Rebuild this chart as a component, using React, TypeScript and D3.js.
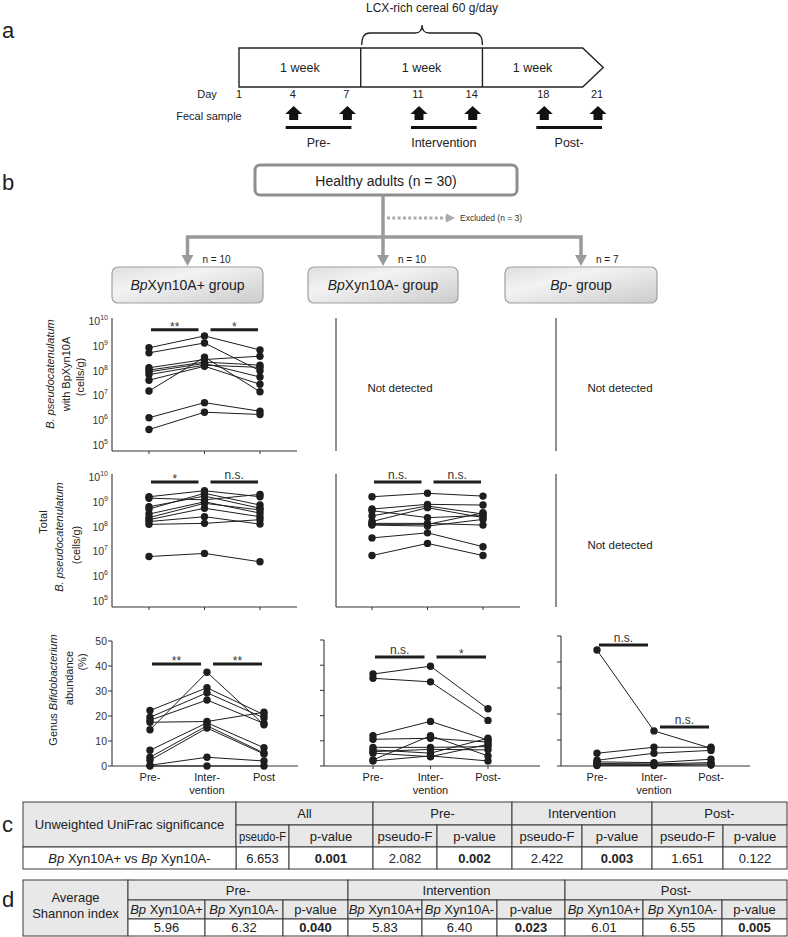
import React from "react";
import * as d3 from "d3";

const FONT = "'Liberation Sans', Arial, Helvetica, sans-serif";
const INK = "#1e1e1e";

// ---------- Panel a: study timeline ----------
const timelineDays = [1, 4, 7, 11, 14, 18, 21];
const sampleDays = [4, 7, 11, 14, 18, 21];
const weekEdges = [1, 7.8, 14.6, 20.2];
const arrowTipDay = 21.35;
const weekLabels = ["1 week", "1 week", "1 week"];
const periodLabels = ["Pre-", "Intervention", "Post-"];
const periodDays = [[4, 7], [11, 14], [18, 21]];
const interventionLabel = "LCX-rich cereal 60 g/day";

// ---------- Panel b: flow + dot plots ----------
const timePoints = ["Pre-", "Intervention", "Post-"];
const groupPrefix = ["Bp", "Bp", "Bp"];
const groupSuffix = ["Xyn10A+ group", "Xyn10A- group", "- group"];
const groupN = [10, 10, 7];
const excludedN = 3;
const totalN = 30;

// Row 1: B. pseudocatenulatum with BpXyn10A (cells/g), BpXyn10A+ group
const withXynPlusPre = [8.3e8, 5.2e8, 1.3e8, 1.05e8, 8.9e7, 6.9e7, 4.1e7, 1.5e7, 1.26e6, 4.2e5];
const withXynPlusInt = [2.5e9, 1.3e9, 2.8e8, 2.2e8, 1.95e8, 1.66e8, 1.5e8, 3.5e8, 5.1e6, 2.1e6];
const withXynPlusPost = [6.8e8, 9.8e7, 3.8e8, 1.66e8, 5.5e7, 1.35e8, 2.8e7, 1.4e7, 2.3e6, 1.7e6];

// Row 2: Total B. pseudocatenulatum (cells/g)
const totalPlusPre = [1.6e9, 1.4e9, 6.3e8, 5.1e8, 3.2e8, 2.3e8, 1.9e8, 1.6e8, 1.23e8, 6.2e6];
const totalPlusInt = [2.8e9, 1.2e9, 1.7e9, 2.2e9, 1.0e9, 8.7e8, 5.5e8, 2.5e8, 1.35e8, 8.3e6];
const totalPlusPost = [1.6e9, 2.0e9, 5.5e8, 7.4e8, 3.5e8, 4.7e8, 2.5e8, 1.26e8, 1.9e8, 3.8e6];
const totalMinusPre = [1.6e9, 5.1e8, 4.4e8, 2.7e8, 1.6e8, 1.35e8, 1.23e8, 1.15e8, 3.5e7, 6.8e6];
const totalMinusInt = [2.2e9, 7.9e8, 2.3e8, 6.8e8, 5.8e8, 1.35e8, 1.23e8, 1.05e8, 5.6e7, 2.1e7];
const totalMinusPost = [1.7e9, 7.4e8, 2.8e8, 3.2e8, 2.3e8, 1.15e8, 3.6e8, 1.95e8, 1.55e7, 6.8e6];

// Row 3: Genus Bifidobacterium abundance (%)
const bifPlusPre = [22.2, 19.5, 18.3, 17.5, 14.5, 6.3, 3.5, 2.3, 0.3, 0];
const bifPlusInt = [31.3, 29.3, 26.4, 17.8, 37.5, 17.3, 16.1, 15.2, 3.5, 0];
const bifPlusPost = [20.5, 19.2, 17.0, 21.5, 16.5, 7.3, 5.2, 4.8, 2.0, 0];
const bifMinusPre = [36.5, 34.8, 12.0, 10.6, 7.4, 6.4, 5.7, 5.1, 2.4, 2.0];
const bifMinusInt = [39.6, 33.4, 17.7, 11.0, 7.4, 5.1, 6.6, 3.7, 12.0, 4.0];
const bifMinusPost = [22.7, 18.1, 10.3, 9.5, 7.7, 11.0, 6.4, 8.6, 4.0, 2.0];
const bifNonePre = [44.6, 4.9, 2.2, 1.6, 1.0, 0.5, 0.2];
const bifNoneInt = [13.5, 7.2, 4.9, 1.3, 0.8, 0.5, 0.2];
const bifNonePost = [6.8, 7.2, 6.0, 2.6, 1.3, 0.8, 0.4];

const logTickValues = [1e5, 1e6, 1e7, 1e8, 1e9, 1e10];
const pctTickValues = [0, 10, 20, 30, 40, 50];

// ---------- Panel c / d tables ----------
const unifracHeader = "Unweighted UniFrac significance";
const unifracPeriods = ["All", "Pre-", "Intervention", "Post-"];
const unifracPseudoF = ["6.653", "2.082", "2.422", "1.651"];
const unifracP = ["0.001", "0.002", "0.003", "0.122"];
const unifracPBold = [true, true, true, false];
const shannonPeriods = ["Pre-", "Intervention", "Post-"];
const shannonPlus = ["5.96", "5.83", "6.01"];
const shannonMinus = ["6.32", "6.40", "6.55"];
const shannonP = ["0.040", "0.023", "0.005"];

type Sig = { from: number; to: number; at: number; label: string };

function SigBar({ x1, x2, y, label }: { x1: number; x2: number; y: number; label: string }) {
  const isStar = label.includes("*");
  return (
    <g>
      <line x1={x1} x2={x2} y1={y} y2={y} stroke={INK} strokeWidth={3} />
      <text x={(x1 + x2) / 2} y={isStar ? y + 1 : y - 3} textAnchor="middle" fontSize={12} fill="#333">
        {label}
      </text>
    </g>
  );
}

function DotPlot(props: {
  axisX: number; axisTop: number; axisBottom: number; xEnd: number; xFirst: number; xLast: number;
  y: any; pre: number[]; mid: number[]; post: number[]; sig: Sig[];
  logLabels?: boolean; pctLabels?: boolean; pctTicks?: boolean; xLabels?: string[][];
}) {
  const { axisX, axisTop, axisBottom, xEnd, xFirst, xLast, y, pre, mid, post, sig } = props;
  const x = d3.scalePoint<string>().domain(timePoints).range([xFirst, xLast]);
  const subjects = pre.map((p, i) => [p, mid[i], post[i]]);
  const line = d3.line<number>().x((_, i) => x(timePoints[i])!).y((v) => y(v));
  const px = timePoints.map((t) => x(t)!);
  return (
    <g>
      <line x1={axisX} x2={axisX} y1={axisTop} y2={axisBottom} stroke="#333" strokeWidth={1.1} />
      <line x1={axisX} x2={xEnd} y1={axisBottom} y2={axisBottom} stroke="#333" strokeWidth={1.1} />
      {px.map((p, i) => (
        <line key={i} x1={p} x2={p} y1={axisBottom} y2={axisBottom + 3} stroke="#333" strokeWidth={1} />
      ))}
      {props.logLabels &&
        logTickValues.map((v) => (
          <text key={v} x={axisX - 4} y={y(v) + 4} textAnchor="end" fontSize={10.5} fill="#333">
            10<tspan dy={-5} fontSize={7}>{Math.round(Math.log10(v))}</tspan>
          </text>
        ))}
      {props.pctTicks &&
        pctTickValues.map((v) => (
          <g key={v}>
            <line x1={axisX - 4} x2={axisX} y1={y(v)} y2={y(v)} stroke="#333" strokeWidth={1} />
            {props.pctLabels && (
              <text x={axisX - 5} y={y(v) + 3.5} textAnchor="end" fontSize={10.5} fill="#333">
                {v}
              </text>
            )}
          </g>
        ))}
      {subjects.map((s, i) => (
        <path key={i} d={line(s)!} fill="none" stroke={INK} strokeWidth={1} />
      ))}
      {subjects.map((s, i) =>
        s.map((v, j) => <circle key={i + "-" + j} cx={px[j]} cy={y(v)} r={3.7} fill={INK} />)
      )}
      {sig.map((s, i) => {
        const a = px[s.from];
        const b = px[s.to];
        return <SigBar key={i} x1={s.from === 0 ? a + 2 : a + 6} x2={s.to === 2 ? b - 2 : b - 6} y={y(s.at)} label={s.label} />;
      })}
      {props.xLabels &&
        props.xLabels.map((lines, i) => (
          <text key={i} x={px[i]} y={axisBottom + 15} textAnchor="middle" fontSize={11} fill="#222">
            {lines.map((l, k) => (
              <tspan key={k} x={px[i]} dy={k === 0 ? 0 : 13}>{l}</tspan>
            ))}
          </text>
        ))}
    </g>
  );
}

function EmptyPlot({ axisX, axisTop, axisBottom, cx, cy }: { axisX: number; axisTop: number; axisBottom: number; cx: number; cy: number }) {
  return (
    <g>
      <line x1={axisX} x2={axisX} y1={axisTop} y2={axisBottom} stroke="#333" strokeWidth={1.1} />
      <text x={cx} y={cy + 4} textAnchor="middle" fontSize={11.5} fill="#222">Not detected</text>
    </g>
  );
}

function Cell({ x1, x2, y1, y2, fill, children }: any) {
  return (
    <g>
      <rect x={x1} y={y1} width={x2 - x1} height={y2 - y1} fill={fill} stroke="#3a3a3a" strokeWidth={1} />
      {children}
    </g>
  );
}

function CellText({ x, y, bold, fit, children }: any) {
  return (
    <text x={x} y={y + 4.5} textAnchor="middle" fontSize={13} fontWeight={bold ? "bold" : "normal"} fill="#222"
      {...(fit ? { textLength: fit, lengthAdjust: "spacingAndGlyphs" } : {})}>
      {children}
    </text>
  );
}

const GRAY = "#e8e8e8";

export default function App() {
  // timeline scale
  const dx = d3.scaleLinear().domain([1, 21]).range([239, 597]);
  const boxTop = 48;
  const boxBot = 87;
  const boxMid = (boxTop + boxBot) / 2;
  const edgesX = weekEdges.map((d) => dx(d));
  const [e0, e1, e2, e3] = edgesX;
  const tip = dx(arrowTipDay);
  const timelinePath = `M${e0},${boxTop}H${e3}L${tip},${boxMid}L${e3},${boxBot}H${e0}Z`;
  const bL = e1 + 1;
  const bR = e2;
  const bMid = (bL + bR) / 2;
  const braceTop = 33;
  const bracePath = `M${bL},45Q${bL},${braceTop} ${bL + 8},${braceTop}H${bMid - 7}Q${bMid},${braceTop} ${bMid},${braceTop - 8}Q${bMid},${braceTop} ${bMid + 7},${braceTop}H${bR - 8}Q${bR},${braceTop} ${bR},45`;

  // plot scales
  const yLog1 = d3.scaleLog().domain([1e5, 1e10]).range([445, 321]);
  const yLog2 = d3.scaleLog().domain([1e5, 1e10]).range([601, 477]);
  const yPctL = d3.scaleLinear().domain([0, 50]).range([766, 641]);
  const yPctM = d3.scaleLinear().domain([0, 50]).range([766, 640]);
  const yPctR = d3.scaleLinear().domain([0, 50]).range([766, 636]);

  // flow chart
  const groupCx = [187.5, 383, 581];
  const groupBoxes = [[112, 263], [308, 458], [505, 657]];

  // tables
  const cX = [23, 236, 289, 373, 437, 512, 582, 652, 723, 787];
  const cY = [802, 825, 847, 869];
  const dX = [23, 128, 205, 283, 348, 422, 497, 565, 643, 722, 787];
  const dY = [880, 900, 919, 936];
  const mid = (a: number, b: number) => (a + b) / 2;

  return (
    <svg width={788} height={937} style={{ position: "absolute", left: 0, top: 0, background: "#fff" }} fontFamily={FONT}>
      <defs>
        <linearGradient id="groupFill" x1="0" x2="1" y1="0" y2="1">
          <stop offset="0" stopColor="#dedede" />
          <stop offset="0.35" stopColor="#f3f3f3" />
          <stop offset="1" stopColor="#cbcbcb" />
        </linearGradient>
      </defs>

      {/* ---------- panel a ---------- */}
      <text x={2} y={38} fontSize={22} fill="#222">a</text>
      <text x={bMid + 10} y={12} textAnchor="middle" fontSize={12} fill="#222">{interventionLabel}</text>
      <path d={bracePath} fill="none" stroke="#222" strokeWidth={1.3} />
      <path d={timelinePath} fill="#fff" stroke="#222" strokeWidth={1.4} />
      <line x1={e1} x2={e1} y1={boxTop} y2={boxBot} stroke="#222" strokeWidth={1.4} />
      <line x1={e2} x2={e2} y1={boxTop} y2={boxBot} stroke="#222" strokeWidth={1.4} />
      {weekLabels.map((w, i) => (
        <text key={i} x={mid(edgesX[i], edgesX[i + 1])} y={boxMid + 4.5} textAnchor="middle" fontSize={12.5} fill="#222">{w}</text>
      ))}
      <text x={207} y={98} textAnchor="middle" fontSize={11} fill="#222">Day</text>
      {timelineDays.map((d) => (
        <text key={d} x={dx(d)} y={98} textAnchor="middle" fontSize={11} fill="#222">{d}</text>
      ))}
      <text x={209} y={120} textAnchor="middle" fontSize={11} fill="#222">Fecal sample</text>
      {sampleDays.map((d) => {
        const c = dx(d) + 1;
        return <path key={d} d={`M${c},106L${c + 8.5},114H${c + 4.5}V120H${c - 4.5}V114H${c - 8.5}Z`} fill="#111" />;
      })}
      {periodDays.map(([a, b], i) => (
        <g key={i}>
          <line x1={dx(a) - 7} x2={dx(b) + 5} y1={127.5} y2={127.5} stroke="#111" strokeWidth={3} />
          <text x={mid(dx(a) - 7, dx(b) + 5)} y={147} textAnchor="middle" fontSize={12.5} fill="#222">{periodLabels[i]}</text>
        </g>
      ))}

      {/* ---------- panel b flow ---------- */}
      <text x={2} y={190} fontSize={22} fill="#222">b</text>
      <rect x={255} y={165} width={262} height={30} rx={5} fill="#fff" stroke="#8e8e8e" strokeWidth={3} />
      <text x={386} y={186} textAnchor="middle" fontSize={14} fill="#222">Healthy adults (n = {totalN})</text>
      <line x1={groupCx[1]} x2={groupCx[1]} y1={196} y2={256} stroke="#9a9a9a" strokeWidth={3.5} />
      <path d={`M${groupCx[0]},256V237H${groupCx[2]}V256`} fill="none" stroke="#9a9a9a" strokeWidth={3.5} />
      {groupCx.map((c, i) => (
        <path key={i} d={`M${c - 6},255L${c + 6},255L${c},266Z`} fill="#9a9a9a" />
      ))}
      <line x1={387} x2={447} y1={218} y2={218} stroke="#ababab" strokeWidth={3} strokeDasharray="3 2.3" />
      <path d="M446,213.5L455,218L446,222.5Z" fill="#ababab" />
      <text x={460} y={221} fontSize={8.5} fill="#333">Excluded (n = {excludedN})</text>
      {groupBoxes.map(([a, b], i) => (
        <g key={i}>
          <rect x={a} y={267} width={b - a} height={36} rx={6} fill="url(#groupFill)" stroke="#a0a0a0" strokeWidth={1.2} />
          <text x={mid(a, b)} y={290} textAnchor="middle" fontSize={14} fill="#222">
            <tspan fontStyle="italic">{groupPrefix[i]}</tspan>{groupSuffix[i]}
          </text>
          <text x={groupCx[i] + 15} y={263} fontSize={10} fill="#222">n = {groupN[i]}</text>
        </g>
      ))}

      {/* ---------- y axis titles ---------- */}
      <g fontSize={11} fill="#222" textAnchor="middle">
        <text transform="translate(54,374) rotate(-90)" fontStyle="italic">B. pseudocatenulatum</text>
        <text transform="translate(70,374) rotate(-90)">with BpXyn10A</text>
        <text transform="translate(84,377) rotate(-90)">(cells/g)</text>
        <text transform="translate(47,522) rotate(-90)">Total</text>
        <text transform="translate(63,537) rotate(-90)" fontStyle="italic">B. pseudocatenulatum</text>
        <text transform="translate(80,545) rotate(-90)">(cells/g)</text>
        <text transform="translate(57,690) rotate(-90)">Genus <tspan fontStyle="italic">Bifidobacterium</tspan></text>
        <text transform="translate(73,678) rotate(-90)">abundance</text>
        <text transform="translate(86,662) rotate(-90)">(%)</text>
      </g>

      {/* ---------- row 1 ---------- */}
      <DotPlot axisX={112} axisTop={318} axisBottom={451} xEnd={297} xFirst={149} xLast={260} y={yLog1}
        pre={withXynPlusPre} mid={withXynPlusInt} post={withXynPlusPost} logLabels
        sig={[{ from: 0, to: 1, at: 4.4e9, label: "**" }, { from: 1, to: 2, at: 4.4e9, label: "*" }]} />
      <EmptyPlot axisX={336} axisTop={318} axisBottom={451} cx={400} cy={388} />
      <EmptyPlot axisX={556} axisTop={318} axisBottom={451} cx={620} cy={388} />

      {/* ---------- row 2 ---------- */}
      <DotPlot axisX={112} axisTop={474} axisBottom={607} xEnd={297} xFirst={149} xLast={260} y={yLog2}
        pre={totalPlusPre} mid={totalPlusInt} post={totalPlusPost} logLabels
        sig={[{ from: 0, to: 1, at: 6.3e9, label: "*" }, { from: 1, to: 2, at: 6.3e9, label: "n.s." }]} />
      <DotPlot axisX={336} axisTop={474} axisBottom={607} xEnd={520} xFirst={372} xLast={483} y={yLog2}
        pre={totalMinusPre} mid={totalMinusInt} post={totalMinusPost}
        sig={[{ from: 0, to: 1, at: 6.3e9, label: "n.s." }, { from: 1, to: 2, at: 6.3e9, label: "n.s." }]} />
      <EmptyPlot axisX={556} axisTop={474} axisBottom={607} cx={620} cy={545} />

      {/* ---------- row 3 ---------- */}
      <DotPlot axisX={112} axisTop={641} axisBottom={766} xEnd={298} xFirst={150} xLast={264} y={yPctL}
        pre={bifPlusPre} mid={bifPlusInt} post={bifPlusPost} pctTicks pctLabels
        xLabels={[["Pre-"], ["Inter-", "vention"], ["Post"]]}
        sig={[{ from: 0, to: 1, at: 40.8, label: "**" }, { from: 1, to: 2, at: 40.8, label: "**" }]} />
      <DotPlot axisX={324} axisTop={640} axisBottom={766} xEnd={540} xFirst={373} xLast={488} y={yPctM}
        pre={bifMinusPre} mid={bifMinusInt} post={bifMinusPost} pctTicks
        xLabels={[["Pre-"], ["Inter-", "vention"], ["Post-"]]}
        sig={[{ from: 0, to: 1, at: 43.3, label: "n.s." }, { from: 1, to: 2, at: 43.3, label: "*" }]} />
      <DotPlot axisX={561} axisTop={636} axisBottom={766} xEnd={750} xFirst={597} xLast={711} y={yPctR}
        pre={bifNonePre} mid={bifNoneInt} post={bifNonePost} pctTicks
        xLabels={[["Pre-"], ["Inter-", "vention"], ["Post-"]]}
        sig={[{ from: 0, to: 1, at: 46.5, label: "n.s." }, { from: 1, to: 2, at: 15, label: "n.s." }]} />

      {/* ---------- panel c ---------- */}
      <text x={2} y={832} fontSize={22} fill="#222">c</text>
      <Cell x1={cX[0]} x2={cX[1]} y1={cY[0]} y2={cY[2]} fill={GRAY}>
        <CellText x={mid(cX[0], cX[1])} y={mid(cY[0], cY[2])}>{unifracHeader}</CellText>
      </Cell>
      {unifracPeriods.map((p, g) => {
        const a = cX[1 + 2 * g];
        const m = cX[2 + 2 * g];
        const b = cX[3 + 2 * g];
        const narrow = m - a < 60;
        return (
          <g key={p}>
            <Cell x1={a} x2={b} y1={cY[0]} y2={cY[1]} fill={GRAY}>
              <CellText x={mid(a, b)} y={mid(cY[0], cY[1])}>{p}</CellText>
            </Cell>
            <Cell x1={a} x2={m} y1={cY[1]} y2={cY[2]} fill={GRAY}>
              <CellText x={mid(a, m)} y={mid(cY[1], cY[2])} fit={narrow ? m - a - 6 : undefined}>pseudo-F</CellText>
            </Cell>
            <Cell x1={m} x2={b} y1={cY[1]} y2={cY[2]} fill={GRAY}>
              <CellText x={mid(m, b)} y={mid(cY[1], cY[2])}>p-value</CellText>
            </Cell>
            <Cell x1={a} x2={m} y1={cY[2]} y2={cY[3]} fill="#fff">
              <CellText x={mid(a, m)} y={mid(cY[2], cY[3])}>{unifracPseudoF[g]}</CellText>
            </Cell>
            <Cell x1={m} x2={b} y1={cY[2]} y2={cY[3]} fill="#fff">
              <CellText x={mid(m, b)} y={mid(cY[2], cY[3])} bold={unifracPBold[g]}>{unifracP[g]}</CellText>
            </Cell>
          </g>
        );
      })}
      <Cell x1={cX[0]} x2={cX[1]} y1={cY[2]} y2={cY[3]} fill="#fff">
        <CellText x={mid(cX[0], cX[1])} y={mid(cY[2], cY[3])}>
          <tspan fontStyle="italic">Bp</tspan> Xyn10A+ vs <tspan fontStyle="italic">Bp</tspan> Xyn10A-
        </CellText>
      </Cell>

      {/* ---------- panel d ---------- */}
      <text x={2} y={907} fontSize={22} fill="#222">d</text>
      <Cell x1={dX[0]} x2={dX[1]} y1={dY[0]} y2={dY[3]} fill={GRAY}>
        <CellText x={mid(dX[0], dX[1])} y={dY[0] + 17}>Average</CellText>
        <CellText x={mid(dX[0], dX[1])} y={dY[0] + 33}>Shannon index</CellText>
      </Cell>
      {shannonPeriods.map((p, g) => {
        const c = [dX[1 + 3 * g], dX[2 + 3 * g], dX[3 + 3 * g], dX[4 + 3 * g]];
        const heads = [
          <><tspan fontStyle="italic">Bp</tspan> Xyn10A+</>,
          <><tspan fontStyle="italic">Bp</tspan> Xyn10A-</>,
          <>p-value</>,
        ];
        const vals = [shannonPlus[g], shannonMinus[g], shannonP[g]];
        return (
          <g key={p}>
            <Cell x1={c[0]} x2={c[3]} y1={dY[0]} y2={dY[1]} fill={GRAY}>
              <CellText x={mid(c[0], c[3])} y={mid(dY[0], dY[1])}>{p}</CellText>
            </Cell>
            {heads.map((h, k) => (
              <Cell key={"h" + k} x1={c[k]} x2={c[k + 1]} y1={dY[1]} y2={dY[2]} fill={GRAY}>
                <CellText x={mid(c[k], c[k + 1])} y={mid(dY[1], dY[2])}>{h}</CellText>
              </Cell>
            ))}
            {vals.map((v, k) => (
              <Cell key={"v" + k} x1={c[k]} x2={c[k + 1]} y1={dY[2]} y2={dY[3]} fill="#fff">
                <CellText x={mid(c[k], c[k + 1])} y={mid(dY[2], dY[3])} bold={k === 2}>{v}</CellText>
              </Cell>
            ))}
          </g>
        );
      })}
    </svg>
  );
}
